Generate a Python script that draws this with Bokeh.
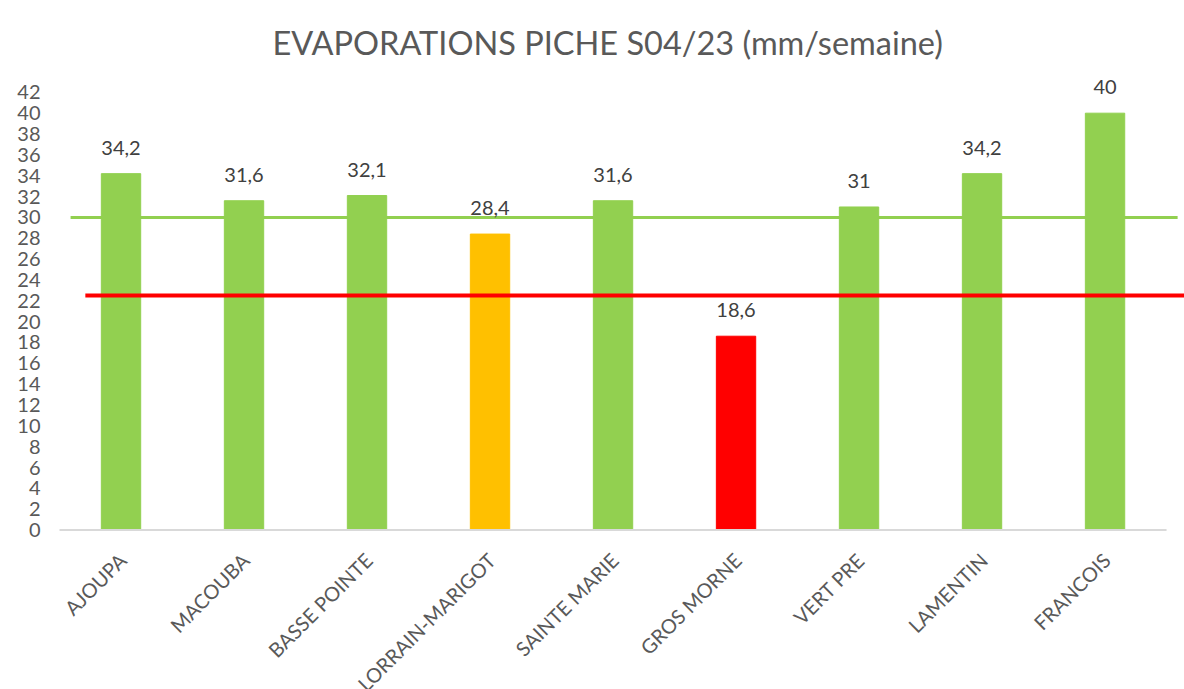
import math
from bokeh.plotting import figure
from bokeh.models import ColumnDataSource, FixedTicker, Range1d, Title
from bokeh.core.properties import value
from bokeh.embed import file_html
from bokeh.resources import INLINE

# ---- data ----
stations = ["AJOUPA", "MACOUBA", "BASSE POINTE", "LORRAIN-MARIGOT", "SAINTE MARIE",
            "GROS MORNE", "VERT PRE", "LAMENTIN", "FRANCOIS"]
evaporation = [34.2, 31.6, 32.1, 28.4, 31.6, 18.6, 31, 34.2, 40]
bar_colors = ["#92D050", "#92D050", "#92D050", "#FFC000", "#92D050",
              "#FF0000", "#92D050", "#92D050", "#92D050"]
seuil_vert = 30
seuil_rouge = 22.5
y_ticks = [0, 2, 4, 6, 8, 10, 12, 14, 16, 18, 20, 22, 24, 26, 28, 30, 32, 34, 36, 38, 40, 42]
title_text = "EVAPORATIONS PICHE S04/23 (mm/semaine)"

FONT = "Lato"

xs = [i + 0.5 for i in range(len(stations))]
labels = [("%g" % v).replace(".", ",") for v in evaporation]
src = ColumnDataSource(dict(x=xs, top=evaporation, color=bar_colors, label=labels,
                            name=stations, base=[0] * len(stations)))

p = figure(width=1184, height=689, output_backend="svg", toolbar_location=None,
           x_range=Range1d(-0.057, 9.146), y_range=Range1d(-15.3, 44),
           min_border_left=52, min_border_right=0, min_border_top=71, min_border_bottom=0)
p.outline_line_color = None
p.xgrid.grid_line_color = None
p.ygrid.grid_line_color = None
p.xaxis.visible = False

t = Title(text=title_text, align="left", text_font=FONT, text_font_size="32.5px",
          text_color="#595959", text_font_style="normal", offset=220, standoff=19)
p.add_layout(t, "above")

# green threshold line (behind bars)
p.segment(x0=[0.09], x1=[9.09], y0=[seuil_vert], y1=[seuil_vert],
          line_color="#92D050", line_width=3)

p.vbar(x="x", top="top", width=0.32, bottom=0, color="color", source=src)

# red threshold line (over bars)
p.segment(x0=[0.21], x1=[9.2], y0=[seuil_rouge], y1=[seuil_rouge],
          line_color="#FF0000", line_width=4)

# baseline
p.segment(x0=[0], x1=[9], y0=[0], y1=[0], line_color="#D9D9D9", line_width=2)

# value labels
p.text(x="x", y="top", text="label", source=src, text_align="center",
       text_baseline="alphabetic", y_offset=-26, text_font=value(FONT),
       text_font_size="20px", text_color="#404040")

# category labels (rotated)
p.text(x="x", y="base", text="name", source=src, text_align="right",
       text_baseline="top", angle=math.pi / 4, x_offset=-7, y_offset=18,
       text_font=value(FONT), text_font_size="20px", text_color="#595959")

p.yaxis.ticker = FixedTicker(ticks=y_ticks)
p.yaxis.axis_line_color = None
p.yaxis.major_tick_line_color = None
p.yaxis.minor_tick_line_color = None
p.yaxis.major_label_text_font = FONT
p.yaxis.major_label_text_font_size = "20px"
p.yaxis.major_label_text_color = "#595959"
p.yaxis.major_label_standoff = 6

open("out.html", "w").write(file_html(p, INLINE))
